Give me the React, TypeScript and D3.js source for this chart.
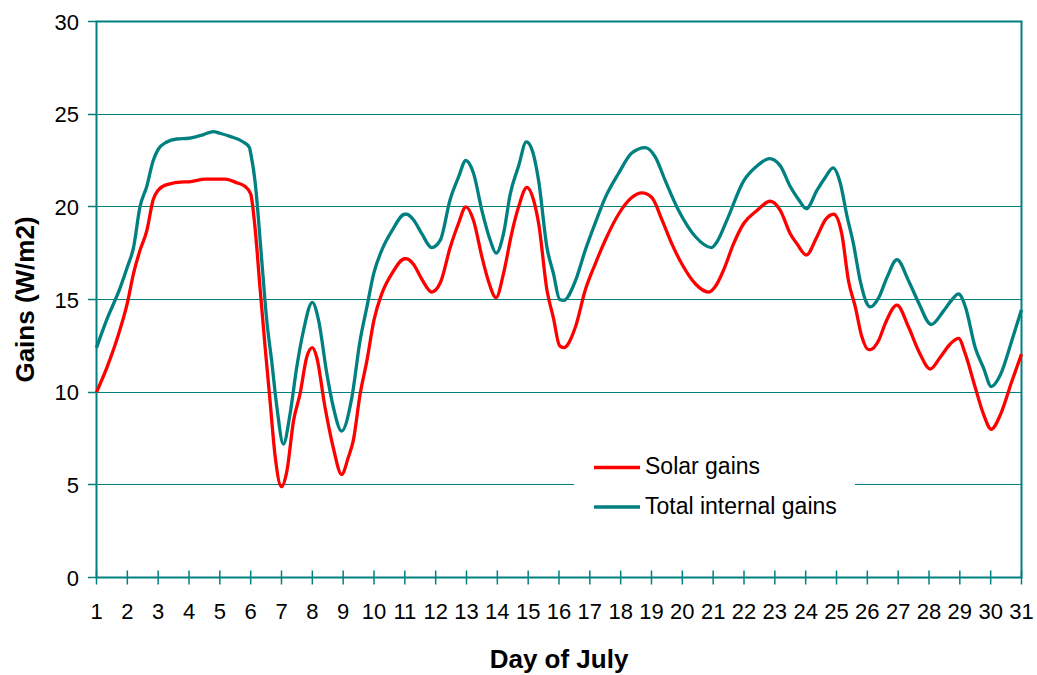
import React from "react";
import * as d3 from "d3";

const dayTicks: number[] = d3.range(1, 32);
const valueTicks: number[] = [0, 5, 10, 15, 20, 25, 30];

const solarGains: [number, number][] = [
  [1.0, 10.0], [1.33, 11.3], [1.71, 13.1], [2.0, 14.8], [2.2, 16.4], [2.41, 17.65], [2.63, 18.7],
  [2.84, 20.4], [3.0, 20.9], [3.28, 21.2], [3.82, 21.35], [4.0, 21.35], [4.52, 21.5], [5.0, 21.5],
  [5.17, 21.5], [5.55, 21.3], [5.82, 21.1], [6.0, 20.7], [6.14, 18.9], [6.3, 15.7], [6.47, 12.4],
  [6.63, 9.5], [6.79, 6.6], [7.0, 4.9], [7.17, 5.7], [7.39, 8.45], [7.6, 9.9], [7.82, 11.9],
  [8.0, 12.4], [8.14, 11.9], [8.41, 9.2], [8.68, 7.0], [8.95, 5.56], [9.17, 6.5], [9.33, 7.4],
  [9.55, 9.9], [9.77, 11.7], [10.0, 13.9], [10.25, 15.3], [10.58, 16.4], [11.0, 17.2], [11.06, 17.2],
  [11.28, 16.9], [11.55, 16.1], [11.87, 15.4], [12.15, 15.9], [12.47, 17.8], [12.74, 19.1],
  [12.98, 20.0], [13.23, 19.25], [13.5, 17.3], [13.71, 16.0], [13.96, 15.1], [14.2, 16.4],
  [14.47, 18.6], [14.69, 20.0], [14.96, 21.05], [15.17, 20.4], [15.34, 19.1], [15.61, 15.5],
  [15.82, 14.0], [16.02, 12.5], [16.15, 12.4], [16.53, 13.5], [16.85, 15.5], [17.17, 16.9],
  [17.5, 18.2], [17.93, 19.6], [18.36, 20.5], [18.69, 20.75], [19.01, 20.5], [19.34, 19.3],
  [19.66, 18.0], [19.99, 16.9], [20.42, 15.85], [20.85, 15.4], [21.07, 15.7], [21.34, 16.6],
  [21.66, 18.0], [21.99, 19.1], [22.42, 19.8], [22.85, 20.3], [23.18, 19.8], [23.5, 18.55],
  [23.72, 18.0], [24.02, 17.4], [24.37, 18.4], [24.64, 19.3], [24.91, 19.6], [25.17, 18.55],
  [25.39, 16.0], [25.61, 14.6], [25.82, 13.0], [26.04, 12.3], [26.1, 12.3], [26.37, 12.8],
  [26.58, 13.7], [26.96, 14.7], [27.34, 13.5], [27.67, 12.2], [28.04, 11.25], [28.37, 11.9],
  [28.69, 12.6], [28.96, 12.9], [29.18, 12.05], [29.5, 10.25], [29.77, 8.8], [30.02, 8.0],
  [30.32, 8.8], [30.69, 10.6], [31.0, 12.05],
];

const totalInternalGains: [number, number][] = [
  [1.0, 12.4], [1.33, 13.9], [1.76, 15.6], [2.0, 16.75], [2.2, 17.8], [2.41, 20.0], [2.63, 21.1],
  [2.84, 22.5], [3.0, 23.1], [3.28, 23.5], [3.6, 23.66], [4.0, 23.7], [4.47, 23.9], [4.79, 24.06],
  [5.0, 23.97], [5.33, 23.8], [5.76, 23.5], [5.96, 23.2], [6.0, 22.9], [6.14, 21.4], [6.36, 17.1],
  [6.52, 13.9], [6.68, 11.7], [6.85, 9.2], [7.06, 7.2], [7.28, 8.85], [7.49, 11.3], [7.71, 13.3],
  [8.0, 14.85], [8.2, 13.9], [8.47, 11.0], [8.68, 9.2], [8.95, 7.9], [9.28, 9.7], [9.55, 12.8],
  [9.77, 14.6], [9.99, 16.4], [10.25, 17.65], [10.58, 18.7], [11.0, 19.6], [11.06, 19.6],
  [11.28, 19.3], [11.55, 18.55], [11.87, 17.8], [12.15, 18.2], [12.47, 20.4], [12.74, 21.6],
  [12.98, 22.5], [13.23, 21.8], [13.5, 19.8], [13.77, 18.2], [13.96, 17.5], [14.2, 18.55],
  [14.42, 20.7], [14.69, 22.2], [14.94, 23.5], [15.12, 23.1], [15.34, 21.4], [15.61, 17.8],
  [15.82, 16.4], [16.02, 15.0], [16.15, 14.95], [16.53, 16.0], [16.85, 17.65], [17.17, 19.1],
  [17.5, 20.5], [17.93, 21.8], [18.36, 22.9], [18.8, 23.2], [19.12, 22.7], [19.45, 21.4],
  [19.88, 19.8], [20.42, 18.4], [20.95, 17.8], [21.12, 18.1], [21.45, 19.3], [21.99, 21.4],
  [22.42, 22.2], [22.83, 22.6], [23.18, 22.2], [23.5, 21.1], [23.77, 20.4], [24.02, 19.9],
  [24.37, 20.9], [24.64, 21.6], [24.89, 22.1], [25.12, 21.3], [25.34, 19.5], [25.55, 18.0],
  [25.77, 16.0], [25.98, 14.8], [26.1, 14.6], [26.37, 15.1], [26.64, 16.2], [26.96, 17.15],
  [27.34, 16.0], [27.67, 14.8], [28.07, 13.65], [28.48, 14.4], [28.75, 15.0], [28.96, 15.3],
  [29.18, 14.6], [29.5, 12.4], [29.77, 11.3], [30.02, 10.3], [30.32, 10.95], [30.69, 12.8],
  [31.0, 14.45],
];

const seriesNames = ["Solar gains", "Total internal gains"];
const seriesColors = ["#ff0000", "#008080"];

const W = 1037;
const H = 675;
const left = 96.5;
const right = 1021.5;
const top = 21.5;
const bottom = 577.5;
const AXIS = "#008080";
const FONT = "'Liberation Sans', Arial, sans-serif";

export default function App() {
  const x = d3.scaleLinear().domain([1, 31]).range([left, right]);
  const y = d3.scaleLinear().domain([0, 30]).range([bottom, top]);
  const line = d3
    .line<[number, number]>()
    .x((d) => x(d[0]))
    .y((d) => y(d[1]))
    .curve(d3.curveMonotoneX);
  const snap = (v: number) => Math.round(v - 0.5) + 0.5;

  const series = [solarGains, totalInternalGains];

  return (
    <div style={{ position: "absolute", left: 0, top: 0 }}>
      <svg width={W} height={H} style={{ display: "block", background: "#fff" }}>
        {/* gridlines */}
        {valueTicks.map((v) => (
          <line key={"g" + v} x1={left} x2={right} y1={snap(y(v))} y2={snap(y(v))} stroke={AXIS} strokeWidth={1} />
        ))}
        {/* legend box background */}
        <rect x={574} y={445} width={281} height={80} fill="#fff" />
        {/* y ticks */}
        {valueTicks.map((v) => (
          <line key={"yt" + v} x1={88} x2={left} y1={snap(y(v))} y2={snap(y(v))} stroke={AXIS} strokeWidth={1.5} />
        ))}
        {/* x ticks */}
        {dayTicks.map((d) => (
          <line key={"xt" + d} x1={x(d)} x2={x(d)} y1={bottom - 7} y2={bottom + 7} stroke={AXIS} strokeWidth={1.5} />
        ))}
        {/* frame */}
        <rect x={left} y={top} width={right - left} height={bottom - top} fill="none" stroke={AXIS} strokeWidth={2} />
        {/* series */}
        {series.map((s, i) => (
          <path key={"s" + i} d={line(s) || ""} fill="none" stroke={seriesColors[i]} strokeWidth={3.3} strokeLinejoin="round" />
        ))}
        {/* y labels */}
        {valueTicks.map((v) => (
          <text key={"yl" + v} x={79} y={y(v) + 8} textAnchor="end" fontFamily={FONT} fontSize={22} fill="#000">
            {v}
          </text>
        ))}
        {/* x labels */}
        {dayTicks.map((d) => (
          <text key={"xl" + d} x={x(d)} y={619} textAnchor="middle" fontFamily={FONT} fontSize={22} fill="#000">
            {d}
          </text>
        ))}
        {/* axis titles */}
        <text
          transform={`translate(34, ${(top + bottom) / 2}) rotate(-90)`}
          textAnchor="middle"
          fontFamily={FONT}
          fontSize={26}
          fontWeight="bold"
          fill="#000"
        >
          Gains (W/m2)
        </text>
        <text x={559} y={668} textAnchor="middle" fontFamily={FONT} fontSize={26} fontWeight="bold" fill="#000">
          Day of July
        </text>
        {/* legend */}
        {seriesNames.map((n, i) => (
          <g key={"lg" + i}>
            <line x1={594} x2={640} y1={467.5 + i * 39.5} y2={467.5 + i * 39.5} stroke={seriesColors[i]} strokeWidth={3.3} />
            <text x={645} y={474 + i * 39.5} fontFamily={FONT} fontSize={23} fill="#000">
              {n}
            </text>
          </g>
        ))}
      </svg>
    </div>
  );
}
